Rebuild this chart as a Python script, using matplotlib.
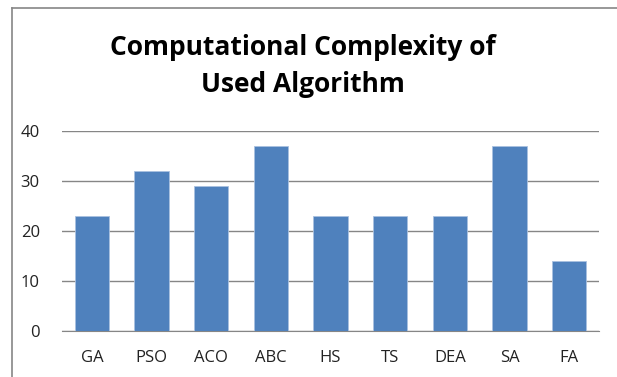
import matplotlib
matplotlib.use("Agg")
import matplotlib.pyplot as plt
from matplotlib.lines import Line2D

categories = ["GA", "PSO", "ACO", "ABC", "HS", "TS", "DEA", "SA", "FA"]
values = [23, 32, 29, 37, 23, 23, 23, 37, 14]
yticks = [0, 10, 20, 30, 40]
title = "Computational Complexity of\nUsed Algorithm"

W, H = 617, 377
fig = plt.figure(figsize=(W / 100, H / 100), dpi=100)
fig.patch.set_facecolor("white")

# chart frame (left and top edges)
fig.add_artist(Line2D([12 / W, 12 / W], [0, 1 - 8 / H], color="#868686", lw=1.2))
fig.add_artist(Line2D([12 / W, 1], [1 - 8 / H, 1 - 8 / H], color="#868686", lw=1.2))

ax = fig.add_axes([62 / W, 1 - 331 / H, (599 - 62) / W, (331 - 131) / H])
x = range(len(categories))
ax.bar(x, values, width=0.571, color="#4F81BD", edgecolor="#a9c1e0", linewidth=0.6, zorder=3)
ax.set_xlim(-0.5, len(categories) - 0.5)
ax.set_ylim(0, 40)
ax.set_yticks(yticks)
ax.set_xticks(list(x))
ax.set_xticklabels(categories)
ax.yaxis.grid(True, color="#868686", lw=1.0, zorder=0)
for s in ["top", "right", "left"]:
    ax.spines[s].set_visible(False)
ax.spines["bottom"].set_color("#868686")
ax.tick_params(axis="both", length=0, labelsize=12, colors="#222222")
ax.tick_params(axis="y", pad=16)
ax.tick_params(axis="x", pad=14)
for lab in ax.get_xticklabels() + ax.get_yticklabels():
    lab.set_fontfamily("Open Sans")

fig.text(303 / W, 1 - 66 / H, title, ha="center", va="center", fontsize=19,
         fontweight="bold", fontfamily="Open Sans", linespacing=1.5, color="black")

fig.savefig("out.png", dpi=100)
